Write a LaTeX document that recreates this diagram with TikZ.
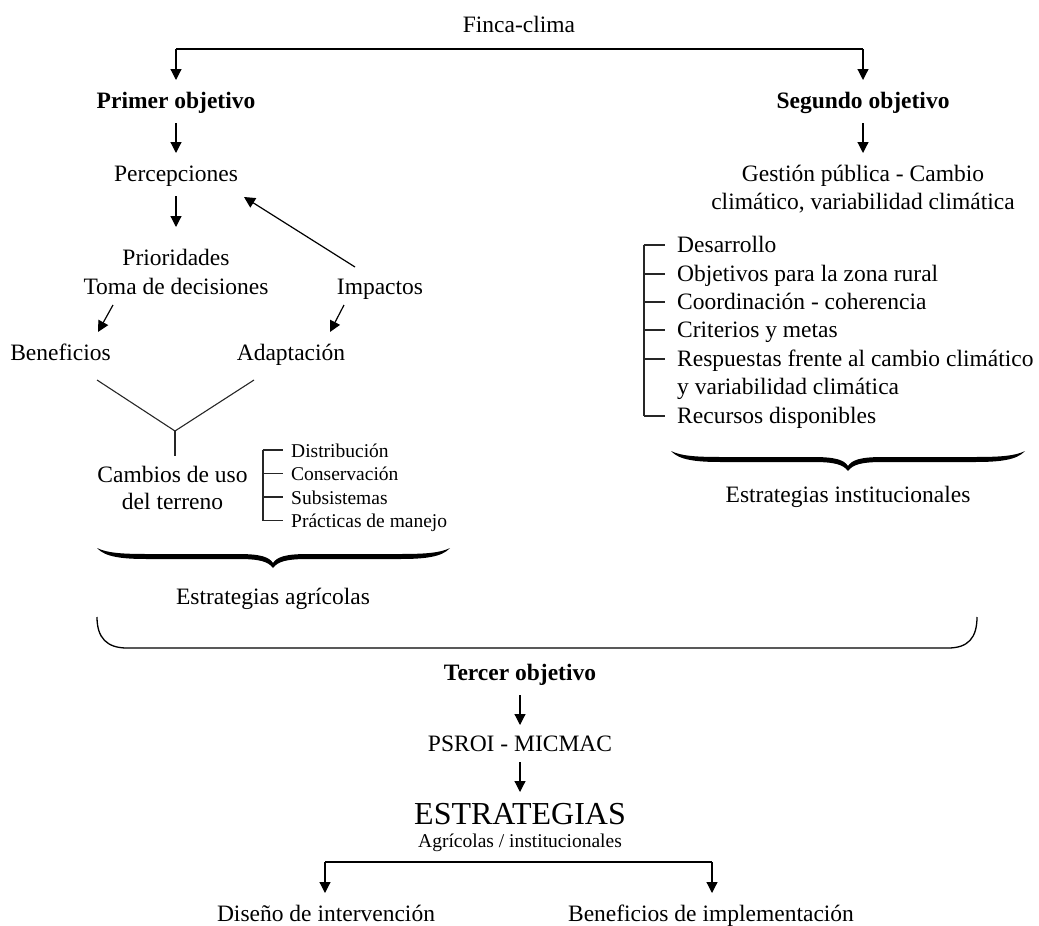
\documentclass[tikz,border=0pt]{standalone}
\usepackage{fontspec}
\setmainfont{Liberation Serif}
\usetikzlibrary{arrows.meta}
\newcommand\curlybrace[4]{% x0, xm, x1, y0
\fill (#1,#4) .. controls ({#1+10},{#4+5}) and ({#1+25},{#4+6}) .. ({#1+50},{#4+6})
 -- ({#2-35},{#4+6}) .. controls ({#2-12},{#4+6}) and ({#2-4},{#4+9}) .. (#2,{#4+15})
 .. controls ({#2+4},{#4+9}) and ({#2+12},{#4+6}) .. ({#2+35},{#4+6})
 -- ({#3-50},{#4+6}) .. controls ({#3-25},{#4+6}) and ({#3-10},{#4+5}) .. (#3,#4)
 .. controls ({#3-8},{#4+9}) and ({#3-25},{#4+11}) .. ({#3-50},{#4+11})
 -- ({#2+35},{#4+11}) .. controls ({#2+15},{#4+11}) and ({#2+5},{#4+13}) .. (#2,{#4+20})
 .. controls ({#2-5},{#4+13}) and ({#2-15},{#4+11}) .. ({#2-35},{#4+11})
 -- ({#1+50},{#4+11}) .. controls ({#1+25},{#4+11}) and ({#1+8},{#4+9}) .. (#1,#4) -- cycle;}
\begin{document}
\begin{tikzpicture}[x=1pt,y=-1pt,
  every node/.style={inner sep=0pt,font=\fontsize{23.5}{28}\selectfont},
  txt/.style={anchor=base},
  ltxt/.style={anchor=base west},
  small/.style={font=\fontsize{19.5}{24}\selectfont},
  bold/.style={font=\fontsize{23.5}{28}\selectfont\bfseries},
  arr/.style={line width=1.2pt,-{Triangle[width=11pt,length=11pt]}},
  ln/.style={line width=1.2pt},
  thinln/.style={line width=1.1pt,black!85},
  ]
\useasboundingbox (0,0) rectangle (1039,926);

% ---- top
\node[txt] (finca) at (519,32) {Finca-clima};
\node[txt,bold] (po) at (176,108) {Primer objetivo};
\node[txt,bold] (so) at (863,108) {Segundo objetivo};
\coordinate (c1) at (176,49);
\coordinate (c2) at (863,49);
\draw[ln] (c1) -- (c2);
\draw[arr] (c1) -- ([yshift=28pt]po.base);
\draw[arr] (c2) -- ([yshift=28pt]so.base);

% ---- first objective
\node[txt] (perc) at (176,181) {Percepciones};
\node[txt] (prio) at (176,265) {Prioridades};
\node[txt] (toma) at (176,294) {Toma de decisiones};
\node[txt] (imp) at (380,294) {Impactos};
\node[txt] (ben) at (60.5,360) {Beneficios};
\node[txt] (adap) at (291,360) {Adaptación};
\node[txt] (camb1) at (172.5,482) {Cambios de uso};
\node[txt] (camb2) at (172.5,509) {del terreno};

\draw[arr] ([yshift=-15pt]po.base) -- ([yshift=28pt]perc.base);
\draw[arr] ([yshift=-15pt]perc.base) -- ([yshift=38pt]prio.base);
\draw[arr] ([shift={(-25pt,27pt)}]imp.base) -- ([shift={(68pt,-16pt)}]perc.base);
\draw[arr] ([shift={(-63pt,-11pt)}]toma.base) -- ([shift={(37.5pt,28pt)}]ben.base);
\draw[arr] ([shift={(-36pt,-11pt)}]imp.base) -- ([shift={(39pt,28pt)}]adap.base);

\coordinate (yj) at (175,431);
\draw[thinln] ([shift={(36.5pt,-20pt)}]ben.base) -- (yj);
\draw[thinln] ([shift={(-37pt,-20pt)}]adap.base) -- (yj);
\draw[thinln] (yj) -- ([shift={(2.5pt,26pt)}]camb1.base);

% small list
\node[ltxt,small] (d1) at (291,457) {Distribución};
\node[ltxt,small] (d2) at (291,480.5) {Conservación};
\node[ltxt,small] (d3) at (291,504) {Subsistemas};
\node[ltxt,small] (d4) at (291,527.5) {Prácticas de manejo};
\draw[thinln] ([shift={(-28pt,7pt)}]d1.base west) -- ([shift={(-28pt,7pt)}]d4.base west);
\foreach \n in {d1,d2,d3,d4}
  \draw[thinln] ([shift={(-28.5pt,7pt)}]\n.base west) -- ([shift={(-8pt,7pt)}]\n.base west);

\curlybrace{97}{273}{450}{548}
\node[txt] (ea) at (273,604) {Estrategias agrícolas};

% ---- second objective
\node[txt] (gp1) at (863,181) {Gestión pública - Cambio};
\node[txt] (gp2) at (863,209) {climático, variabilidad climática};
\draw[arr] ([yshift=-15pt]so.base) -- ([yshift=28pt]gp1.base);

\node[ltxt] (r1) at (677,252) {Desarrollo};
\node[ltxt] (r2) at (677,281) {Objetivos para la zona rural};
\node[ltxt] (r3) at (677,309) {Coordinación - coherencia};
\node[ltxt] (r4) at (677,337) {Criterios y metas};
\node[ltxt] (r5) at (677,366) {Respuestas frente al cambio climático};
\node[ltxt] (r5b) at (677,394) {y variabilidad climática};
\node[ltxt] (r6) at (677,423) {Recursos disponibles};
\draw[thinln] ([shift={(-33pt,7pt)}]r1.base west) -- ([shift={(-33pt,7pt)}]r6.base west);
\foreach \n in {r1,r2,r3,r4,r5,r6}
  \draw[thinln] ([shift={(-33.5pt,7pt)}]\n.base west) -- ([shift={(-12pt,7pt)}]\n.base west);

\curlybrace{671}{848}{1025}{451}
\node[txt] (ei) at (848,502) {Estrategias institucionales};

% ---- big bracket
\draw[line width=1.3pt] (97,617) .. controls (97,638) and (107,648) .. (127,648)
  -- (948,648) .. controls (968,648) and (977,638) .. (977,617);

% ---- third objective
\node[txt,bold] (to) at (520,680) {Tercer objetivo};
\node[txt] (ps) at (520,751) {PSROI - MICMAC};
\node[txt,font=\fontsize{32}{36}\selectfont] (est) at (520,824) {ESTRATEGIAS};
\node[txt,font=\fontsize{19.5}{22}\selectfont] (agi) at (520,847) {Agrícolas / institucionales};
\node[txt] (dis) at (326,921) {Diseño de intervención};
\node[txt] (bi) at (711,921) {Beneficios de implementación};

\draw[arr] ([yshift=-15pt]to.base) -- ([yshift=26pt]ps.base);
\draw[arr] ([yshift=-11pt]ps.base) -- ([yshift=32pt]est.base);
\coordinate (b1) at (325,862);
\coordinate (b2) at (712,862);
\draw[ln] (b1) -- (b2);
\draw[arr] (b1) -- ++(0,31);
\draw[arr] (b2) -- ++(0,31);
\end{tikzpicture}
\end{document}
